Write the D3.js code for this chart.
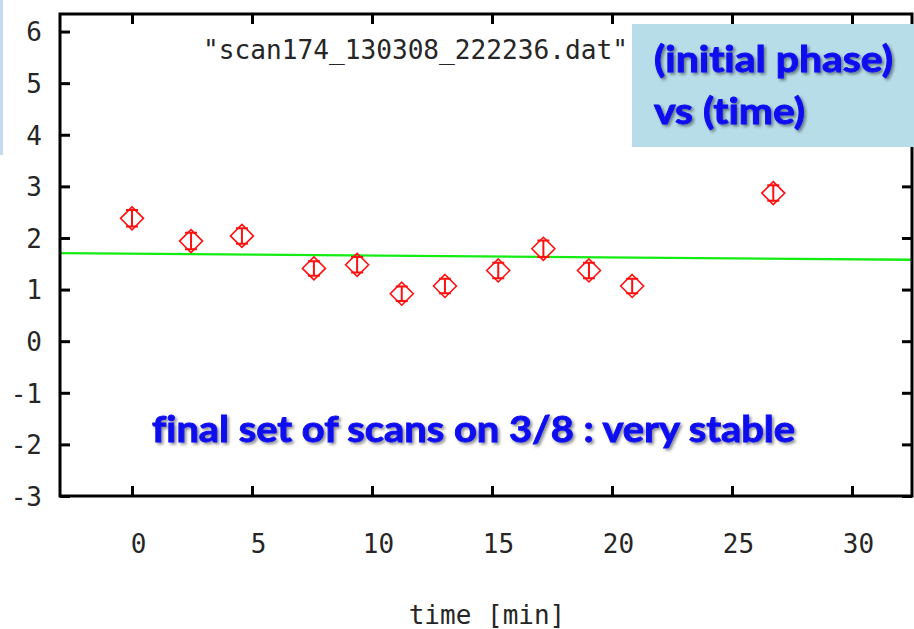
<!DOCTYPE html>
<html>
<head>
<meta charset="utf-8">
<script src="https://cdn.jsdelivr.net/npm/d3@7"></script>
<style>
  html, body { margin: 0; padding: 0; background: #fff; }
  svg { display: block; }
  .note { font-variant-ligatures: none; font-feature-settings: "liga" 0; }
</style>
</head>
<body>
<svg id="chart" width="914" height="629"></svg>
<script>
// Scan times (minutes) and the fitted initial phase of each scan
const times  = [0, 2.46, 4.58, 7.58, 9.38, 11.24, 13.04, 15.26, 17.14, 19.04, 20.84, 26.72];
const phases = [2.38, 1.94, 2.04, 1.41, 1.48, 0.92, 1.07, 1.37, 1.79, 1.37, 1.07, 2.87];
const errors = [0.16, 0.16, 0.15, 0.14, 0.15, 0.14, 0.14, 0.15, 0.16, 0.15, 0.14, 0.15];

// Straight-line fit through the phases: phase = intercept + slope * time
const fitIntercept = 1.695;
const fitSlope = -0.0036;

const xTicks = [0, 5, 10, 15, 20, 25, 30];
const yTicks = [-3, -2, -1, 0, 1, 2, 3, 4, 5, 6];
const xDomain = [-3, 32.5];
const yDomain = [-3, 6.34];

const dataTitle = '"scan174_130308_222236.dat"';
const xTitle = "time [min]";
const noteLines = ["(initial phase)", "vs (time)"];
const caption = "final set of scans on 3/8 : very stable";

const svg = d3.select("#chart");
const plot = { left: 60, right: 912, top: 14, bottom: 496 };

const x = d3.scaleLinear().domain(xDomain).range([plot.left, plot.right]);
const y = d3.scaleLinear().domain(yDomain).range([plot.bottom, plot.top]);

const monoFont = "'DejaVu Sans Mono', 'Liberation Mono', monospace";
const inkColor = "#262626";

// Drop shadow used by the blue annotation text
const defs = svg.append("defs");
const shadow = defs.append("filter").attr("id", "txtShadow")
  .attr("x", "-10%").attr("y", "-30%").attr("width", "120%").attr("height", "160%");
shadow.append("feDropShadow")
  .attr("dx", 2).attr("dy", 2).attr("stdDeviation", 1.4)
  .attr("flood-color", "#000").attr("flood-opacity", 0.45);

// Thin slide-edge strip at the top left
svg.append("rect").attr("x", 0).attr("y", 0).attr("width", 3).attr("height", 155)
  .attr("fill", "#c6d9f0");

// Fit line
const fitLine = d3.line()
  .x(d => x(d))
  .y(d => y(fitIntercept + fitSlope * d));
svg.append("path")
  .datum(xDomain)
  .attr("d", fitLine)
  .attr("fill", "none")
  .attr("stroke", "#14ec14")
  .attr("stroke-width", 2.4);

// Data points: diamond markers with vertical error bars
const pts = times.map((t, i) => ({ t, v: phases[i], e: errors[i] }));
const r = 11.5, cap = 6;
const g = svg.append("g").attr("stroke", "#ff1010").attr("fill", "none");
const marks = g.selectAll("g.pt").data(pts).join("g").attr("class", "pt");
marks.append("path")
  .attr("d", d => {
    const cx = x(d.t), cy = y(d.v);
    return `M${cx},${cy - r}L${cx + r},${cy}L${cx},${cy + r}L${cx - r},${cy}Z`;
  })
  .attr("stroke-width", 1.6);
marks.append("path")
  .attr("d", d => {
    const cx = x(d.t), y0 = y(d.v + d.e), y1 = y(d.v - d.e);
    return `M${cx},${y0}L${cx},${y1}M${cx - cap},${y0}L${cx + cap},${y0}M${cx - cap},${y1}L${cx + cap},${y1}`;
  })
  .attr("stroke-width", 2);

// Axes with inward ticks, mirrored on the top and right
const tickLen = 10;
const axStyle = sel => {
  sel.select(".domain").remove();
  sel.selectAll(".tick line").attr("stroke", "#000").attr("stroke-width", 3);
  sel.selectAll(".tick text")
    .attr("fill", inkColor)
    .attr("font-family", monoFont)
    .attr("font-size", 26);
};

svg.append("g")
  .attr("transform", `translate(0,${plot.bottom})`)
  .call(d3.axisBottom(x).tickValues(xTicks).tickFormat(d3.format("d"))
        .tickSizeInner(-tickLen).tickSizeOuter(0).tickPadding(39))
  .call(axStyle)
  .call(s => s.selectAll(".tick text").attr("dx", 6));

svg.append("g")
  .attr("transform", `translate(0,${plot.top})`)
  .call(d3.axisTop(x).tickValues(xTicks).tickFormat("")
        .tickSizeInner(-tickLen).tickSizeOuter(0))
  .call(axStyle);

svg.append("g")
  .attr("transform", `translate(${plot.left},0)`)
  .call(d3.axisLeft(y).tickValues(yTicks).tickFormat(d => d < 0 ? "-" + Math.abs(d) : d)
        .tickSizeInner(-tickLen).tickSizeOuter(0).tickPadding(18))
  .call(axStyle)
  .call(s => s.selectAll(".tick text").attr("dy", "0.36em"));

svg.append("g")
  .attr("transform", `translate(${plot.right},0)`)
  .call(d3.axisRight(y).tickValues(yTicks).tickFormat("")
        .tickSizeInner(-tickLen).tickSizeOuter(0))
  .call(axStyle);

// Frame
svg.append("rect")
  .attr("x", plot.left).attr("y", plot.top)
  .attr("width", plot.right - plot.left).attr("height", plot.bottom - plot.top)
  .attr("fill", "none").attr("stroke", "#000").attr("stroke-width", 3);

// Data-file key text
svg.append("text")
  .attr("x", 203).attr("y", 59)
  .attr("font-family", monoFont).attr("font-size", 26)
  .attr("fill", inkColor)
  .attr("textLength", 425).attr("lengthAdjust", "spacingAndGlyphs")
  .text(dataTitle);

// X axis title
svg.append("text")
  .attr("x", 487).attr("y", 624)
  .attr("text-anchor", "middle")
  .attr("font-family", monoFont).attr("font-size", 26)
  .attr("fill", inkColor)
  .text(xTitle);

// Annotation box
svg.append("rect")
  .attr("x", 632).attr("y", 24).attr("width", 282).attr("height", 123)
  .attr("fill", "#b7dde8");

const blueFont = "Lato, 'Open Sans', sans-serif";
const blue = "#0a0af0";
const noteWidths = [239, 151];
const noteBase = [72, 124];
svg.append("g").attr("filter", "url(#txtShadow)")
  .selectAll("text").data(noteLines).join("text")
  .attr("class", "note")
  .attr("x", 654).attr("y", (d, i) => noteBase[i])
  .attr("font-family", blueFont).attr("font-weight", 700).attr("font-size", 36)
  .attr("fill", blue).attr("stroke", blue).attr("stroke-width", 0.9)
  .attr("textLength", (d, i) => noteWidths[i]).attr("lengthAdjust", "spacingAndGlyphs")
  .text(d => d);

svg.append("text")
  .attr("class", "note")
  .attr("filter", "url(#txtShadow)")
  .attr("x", 152).attr("y", 442)
  .attr("font-family", blueFont).attr("font-weight", 700).attr("font-size", 36)
  .attr("fill", blue).attr("stroke", blue).attr("stroke-width", 0.9)
  .attr("textLength", 643).attr("lengthAdjust", "spacingAndGlyphs")
  .text(caption);
</script>
</body>
</html>
